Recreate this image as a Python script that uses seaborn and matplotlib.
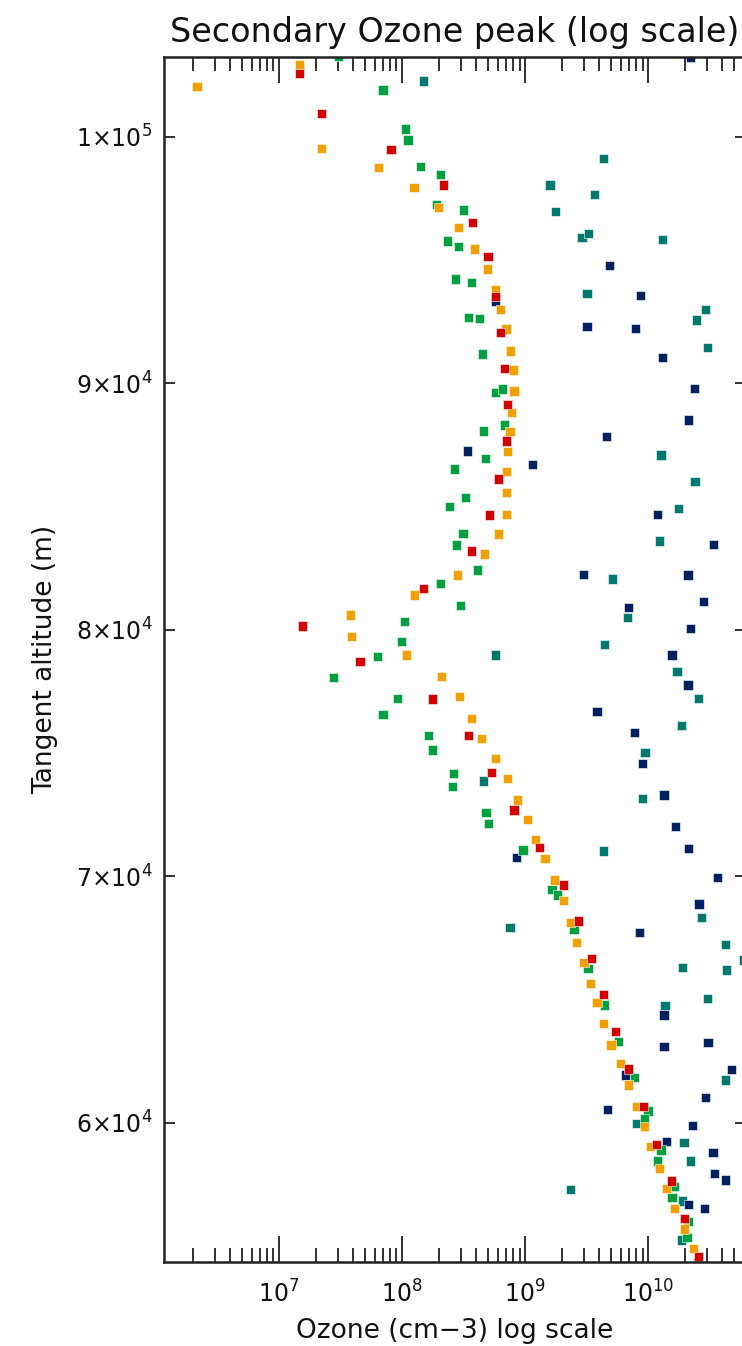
import matplotlib
matplotlib.use("Agg")
import matplotlib.pyplot as plt
import pandas as pd
import seaborn as sns
from matplotlib.ticker import FixedLocator, FixedFormatter, LogLocator, NullFormatter

# ---------------- data (ozone in cm^-3, tangent altitude in m) ----------------
orange_x = [2.16e6, 1.48e7, 2.22e7, 6.48e7, 1.25e8, 1.99e8, 2.86e8, 3.85e8,
            4.93e8, 5.74e8, 6.33e8, 6.98e8, 7.59e8, 8.0e8, 8.13e8, 7.80e8, 7.53e8, 7.17e8,
            7.03e8, 7.03e8, 7.03e8, 6.11e8, 4.67e8, 2.84e8, 1.27e8, 3.83e7, 3.91e7, 1.09e8,
            2.09e8, 2.92e8, 3.64e8, 4.42e8, 5.74e8, 7.17e8, 8.71e8, 1.05e9, 1.22e9, 1.45e9,
            1.73e9, 2.06e9, 2.33e9, 2.62e9, 3.01e9, 3.40e9, 3.83e9, 4.35e9, 4.99e9,
            5.93e9, 6.90e9, 7.98e9, 9.29e9, 1.05e10, 1.23e10, 1.41e10, 1.64e10, 1.96e10, 2.33e10]
orange_alt = [102035, 102940, 99533, 98749, 97938, 97127, 96316, 95450,
              94637, 93812, 93001, 92204, 91311, 90541, 89689, 88824, 88039, 87228,
              86415, 85563, 84684, 83887, 83076, 82224, 81413, 80602, 79723, 78979,
              78098, 77287, 76408, 75597, 74786, 73975, 73096, 72312, 71500, 70730,
              69849, 69005, 68132, 67321, 66510, 65658, 64874, 64035, 63157,
              62411, 61532, 60653, 59842, 59031, 58152, 57341, 56530, 55692, 54907]

red_x = [1.48e7, 2.22e7, 8.15e7, 2.16e8, 3.74e8, 5.0e8,
         5.74e8, 6.33e8, 6.79e8, 7.17e8, 7.03e8,
         6.11e8, 5.14e8, 3.64e8, 1.49e8, 1.56e7,
         4.56e7, 1.77e8, 3.47e8, 5.32e8, 8.13e8, 1.31e9,
         2.06e9, 2.71e9, 3.48e9, 4.35e9, 5.42e9,
         6.95e9, 9.16e9, 1.16e10, 1.54e10, 1.96e10, 2.54e10]
red_alt = [102575, 100953, 99493, 98046, 96518, 95139,
           93515, 92068, 90608, 89148, 87661,
           86118, 84657, 83197, 81683, 80155,
           78707, 77192, 75705, 74218, 72690, 71163,
           69646, 68186, 66672, 65212, 63697,
           62181, 60653, 59126, 57638, 56124, 54569]

green_x = [3.07e7, 7.0e7, 1.07e8, 1.12e8, 1.41e8, 2.06e8, 1.90e8, 3.17e8, 2.33e8, 2.86e8,
           2.72e8, 3.64e8, 3.47e8, 4.27e8, 4.48e8, 5.74e8, 6.59e8, 6.79e8, 4.57e8, 4.73e8,
           2.67e8, 3.30e8, 2.43e8, 3.13e8, 2.76e8, 4.12e8, 2.06e8, 2.98e8, 1.05e8, 9.97e7, 6.35e7,
           2.77e7, 9.16e7, 7.0e7, 1.63e8, 1.77e8, 2.63e8, 2.58e8, 4.80e8, 5.07e8, 9.6e8,
           1.65e9, 1.83e9, 2.49e9, 3.24e9, 4.40e9, 5.73e9,
           7.71e9, 9.96e9, 9.29e9, 1.27e10, 1.19e10, 1.62e10, 1.56e10, 2.10e10, 2.06e10, 2.5e10]
green_alt = [103280, 101899, 100318, 99871, 98790, 98479, 97262, 97032, 95775, 95545,
             94232, 94096, 92663, 92636, 91190, 89635, 89770, 88310, 88067, 86958,
             86523, 85360, 84995, 83914, 83441, 82427, 81886, 80980, 80331, 79520, 78911,
             78058, 77219, 76570, 75705, 75124, 74177, 73637, 72596, 72149, 71068,
             69470, 69241, 67862, 66266, 64779, 63292,
             61830, 60478, 60180, 58896, 58450, 57409, 56963, 55989, 55340, 54367]

teal_x = [1.49e8, 4.35e9, 1.59e9, 3.65e9, 1.77e9, 2.90e9, 3.29e9, 1.30e10,
          3.18e9, 2.92e10, 2.45e10, 3.02e10, 1.27e10,
          2.40e10, 1.76e10, 1.24e10, 5.16e9, 6.81e9, 4.44e9, 5.74e8,
          4.57e8, 1.71e10, 2.54e10, 1.86e10, 9.42e9, 8.98e9, 4.35e9,
          7.53e8, 2.72e10, 4.21e10, 5.96e10, 1.90e10, 4.33e10, 3.02e10, 1.37e10,
          4.21e10, 7.98e9, 1.95e10, 2.21e10, 2.33e9, 1.90e10, 1.86e10]
teal_alt = [102264, 99128, 98046, 97668, 96965, 95910, 96086, 95842,
            93650, 93001, 92569, 91447, 87093,
            86009, 84928, 83603, 82062, 80493, 79412, 78979,
            73866, 78301, 77219, 76111, 75029, 73163, 71027,
            67916, 68335, 67240, 66604, 66293, 66199, 65049, 64752,
            61735, 59977, 59207, 58450, 57301, 56827, 55246]

navy_x = [2.21e10,
          4.82e9, 5.74e8, 8.67e9, 3.18e9, 7.93e9, 1.30e10, 2.37e10, 2.13e10, 4.59e9, 3.40e8,
          1.15e9, 1.19e10, 3.40e10, 2.97e9, 2.10e10, 2.82e10, 6.95e9, 2.21e10, 1.56e10,
          2.10e10, 3.83e9, 7.71e9, 8.98e9, 1.34e10, 1.67e10, 2.13e10, 8.53e8,
          3.64e10, 2.58e10, 8.55e9, 1.34e10, 1.34e10, 3.06e10,
          6.58e9, 4.73e10, 2.92e10, 4.66e9, 2.28e10, 1.41e10, 3.35e10, 3.47e10, 4.21e10,
          2.13e10, 2.88e10]
navy_alt = [103211,
            94772, 93312, 93556, 92298, 92231, 91041, 89797, 88513, 87837, 87255,
            86712, 84684, 83468, 82251, 82224, 81142, 80913, 80061, 78979,
            77760, 76679, 75827, 74583, 73299, 72014, 71136, 70757,
            69957, 68876, 67726, 64373, 63089, 63251,
            61938, 62168, 61018, 60545, 59883, 59234, 58801, 57949, 57679,
            56692, 56530]

series_names = ["teal", "navy", "green", "orange", "red"]
series_colors = ["#00786E", "#00205F", "#00A040", "#F0A000", "#D20000"]
x_tick_values = [1e7, 1e8, 1e9, 1e10]
x_tick_labels = [r"$10^{7}$", r"$10^{8}$", r"$10^{9}$", r"$10^{10}$"]
y_tick_values = [60000, 70000, 80000, 90000, 100000]
y_tick_labels = [r"$6{\times}10^{4}$", r"$7{\times}10^{4}$", r"$8{\times}10^{4}$",
                 r"$9{\times}10^{4}$", r"$1{\times}10^{5}$"]

data = {"teal": (teal_x, teal_alt), "navy": (navy_x, navy_alt),
        "green": (green_x, green_alt), "orange": (orange_x, orange_alt),
        "red": (red_x, red_alt)}
df = pd.concat([pd.DataFrame({"ozone": xs, "alt": ys, "series": name})
                for name, (xs, ys) in data.items()], ignore_index=True)

# ---------------- plot ----------------
sns.set_theme(style="white")
plt.rcParams["font.family"] = ["DejaVu Sans"]
plt.rcParams["mathtext.fontset"] = "dejavusans"

W, H = 742, 1346
fig = plt.figure(figsize=(W / 100, H / 100), dpi=100)
left, right, top, bottom = 163.5, 746.0, 57.0, 1262.0
ax = fig.add_axes([left / W, (H - bottom) / H, (right - left) / W, (bottom - top) / H])
ax.set_xscale("log")

sns.scatterplot(data=df, x="ozone", y="alt", hue="series", hue_order=series_names,
                palette=dict(zip(series_names, series_colors)), marker="s", s=44,
                edgecolor="white", linewidth=0.4, legend=False, ax=ax)

ax.set_xlim(1.155e6, 6.22e10)
ax.set_ylim(54350, 103240)

ax.xaxis.set_major_locator(FixedLocator(x_tick_values))
ax.xaxis.set_major_formatter(FixedFormatter(x_tick_labels))
ax.xaxis.set_minor_locator(LogLocator(base=10, subs=[2, 3, 4, 5, 6, 7, 8, 9], numticks=20))
ax.xaxis.set_minor_formatter(NullFormatter())
ax.yaxis.set_major_locator(FixedLocator(y_tick_values))
ax.yaxis.set_major_formatter(FixedFormatter(y_tick_labels))

ax.tick_params(axis="x", which="major", direction="in", length=19, width=1.3,
               top=True, bottom=True, labelsize=17, pad=13, color="#222222", labelcolor="#111111")
ax.tick_params(axis="x", which="minor", direction="in", length=10, width=1.3,
               top=True, bottom=True, color="#222222")
ax.tick_params(axis="y", which="major", direction="in", length=8, width=1.3,
               left=True, right=True, labelsize=17, pad=8, color="#222222", labelcolor="#111111")
for sp in ax.spines.values():
    sp.set_linewidth(1.8)
    sp.set_color("#222222")

ax.set_xlabel("Ozone (cm\u22123) log scale", fontsize=19, labelpad=8, color="#111111")
ax.set_ylabel("Tangent altitude (m)", fontsize=19, labelpad=13, color="#111111")
ax.set_title("Secondary Ozone peak (log scale)", fontsize=24, pad=11, color="#111111")

fig.savefig("out.png", dpi=100)
